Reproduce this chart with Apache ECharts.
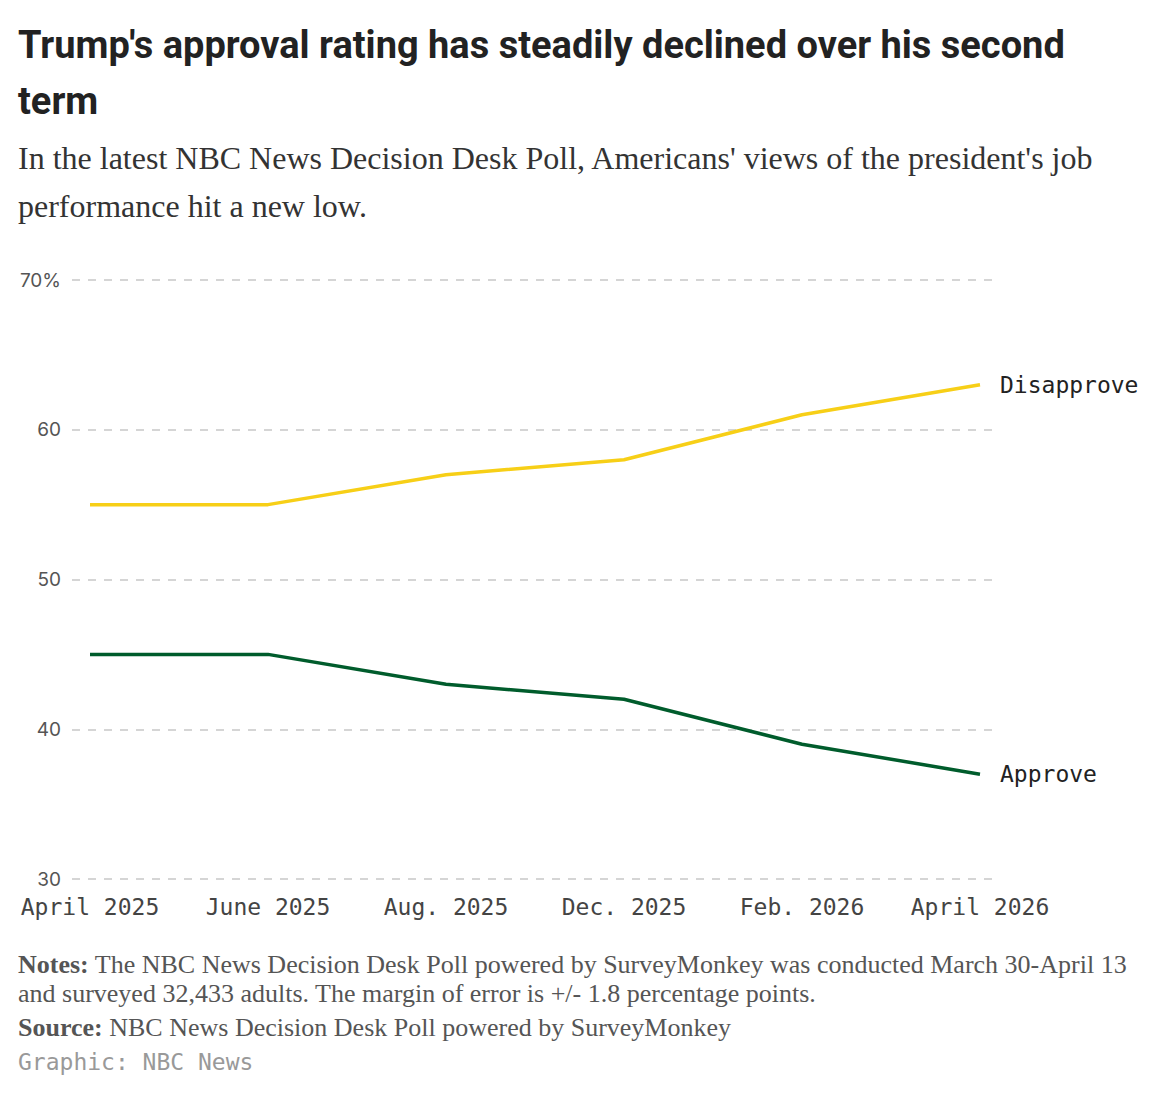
<!DOCTYPE html>
<html>
<head>
<meta charset="utf-8">
<title>Trump approval</title>
<script src="https://cdn.jsdelivr.net/npm/echarts@6/dist/echarts.min.js"></script>
<style>
    html, body { margin: 0; padding: 0; background: #fff; }
    #chart { width: 1168px; height: 1094px; }
</style>
</head>
<body>
<div id="chart"></div>
<script>
const categories = ['April 2025', 'June 2025', 'Aug. 2025', 'Dec. 2025', 'Feb. 2026', 'April 2026'];
const disapprove = [55, 55, 57, 58, 61, 63];
const approve = [45, 45, 43, 42, 39, 37];
const yTicks = [30, 40, 50, 60, 70];

const SERIF = '"Liberation Serif", serif';
const MONO = '"DejaVu Sans Mono", monospace';
const YELLOW = '#f7cf17';
const GREEN = '#005c2c';

let chart = echarts.init(document.getElementById('chart'), null, {renderer: 'svg'});

const yMin = yTicks[0];
const yMax = yTicks[yTicks.length - 1];
const yStep = yTicks[1] - yTicks[0];

function getOptions() {
    return {
        animation: false,
        title: [{
            text: "Trump's approval rating has steadily declined over his second\nterm",
            left: 18,
            top: 17,
            padding: 0,
            textStyle: {
                fontFamily: 'Roboto, "Liberation Sans", sans-serif',
                fontWeight: 'bold',
                fontSize: 38,
                lineHeight: 56,
                color: '#222'
            }
        }, {
            text: "In the latest NBC News Decision Desk Poll, Americans' views of the president's job\nperformance hit a new low.",
            left: 18,
            top: 134,
            padding: 0,
            textStyle: {
                fontFamily: SERIF,
                fontWeight: 'normal',
                fontSize: 32,
                lineHeight: 48,
                color: '#333'
            }
        }, {
            text: '{b|Notes:} The NBC News Decision Desk Poll powered by SurveyMonkey was conducted March 30-April 13\nand surveyed 32,433 adults. The margin of error is +/- 1.8 percentage points.',
            left: 18,
            top: 950,
            padding: 0,
            textStyle: {
                fontFamily: SERIF,
                fontWeight: 'normal',
                fontSize: 26,
                lineHeight: 29,
                color: '#555',
                rich: {
                    b: {fontFamily: SERIF, fontWeight: 'bold', fontSize: 26, lineHeight: 29, color: '#555'}
                }
            }
        }, {
            text: '{b|Source:} NBC News Decision Desk Poll powered by SurveyMonkey',
            left: 18,
            top: 1013,
            padding: 0,
            textStyle: {
                fontFamily: SERIF,
                fontWeight: 'normal',
                fontSize: 26,
                lineHeight: 29,
                color: '#555',
                rich: {
                    b: {fontFamily: SERIF, fontWeight: 'bold', fontSize: 26, lineHeight: 29, color: '#555'}
                }
            }
        }, {
            text: 'Graphic: NBC News',
            left: 18,
            top: 1050,
            padding: 0,
            textStyle: {
                fontFamily: MONO,
                fontWeight: 'normal',
                fontSize: 23,
                lineHeight: 24,
                color: '#999'
            }
        }],
        grid: [
            // dashed gridlines and y labels
            {left: 72, right: 175, top: 280, bottom: 215},
            // lines: first/last points sit inside the gridlines
            {left: 90, right: 188, top: 280, bottom: 215}
        ],
        xAxis: [{
            gridIndex: 0,
            type: 'category',
            data: categories,
            show: false
        }, {
            gridIndex: 1,
            type: 'category',
            data: categories,
            boundaryGap: false,
            axisLine: {show: false},
            axisTick: {show: false},
            axisLabel: {
                margin: 16,
                fontFamily: MONO,
                fontSize: 23,
                color: '#444',
                interval: 0
            }
        }],
        yAxis: [{
            gridIndex: 0,
            type: 'value',
            min: yMin,
            max: yMax,
            interval: yStep,
            axisLine: {show: false},
            axisTick: {show: false},
            axisLabel: {
                margin: 11,
                fontFamily: 'Inter, sans-serif',
                fontSize: 19,
                color: '#555',
                formatter: v => v === yMax ? v + '%' : String(v)
            },
            splitLine: {
                lineStyle: {color: '#c8c8c8', width: 1.6, type: [8, 8]}
            }
        }, {
            gridIndex: 1,
            type: 'value',
            min: yMin,
            max: yMax,
            interval: yStep,
            show: false,
            splitLine: {show: false}
        }],
        series: [{
            name: 'Disapprove',
            type: 'line',
            xAxisIndex: 1,
            yAxisIndex: 1,
            data: disapprove,
            symbol: 'none',
            lineStyle: {color: YELLOW, width: 3.5},
            endLabel: {
                show: true,
                distance: 20,
                formatter: p => p.seriesName,
                fontFamily: MONO,
                fontSize: 23,
                color: '#222'
            }
        }, {
            name: 'Approve',
            type: 'line',
            xAxisIndex: 1,
            yAxisIndex: 1,
            data: approve,
            symbol: 'none',
            lineStyle: {color: GREEN, width: 3.5},
            endLabel: {
                show: true,
                distance: 20,
                formatter: p => p.seriesName,
                fontFamily: MONO,
                fontSize: 23,
                color: '#222'
            }
        }]
    };
}

chart.setOption(getOptions());
</script>
</body>
</html>
